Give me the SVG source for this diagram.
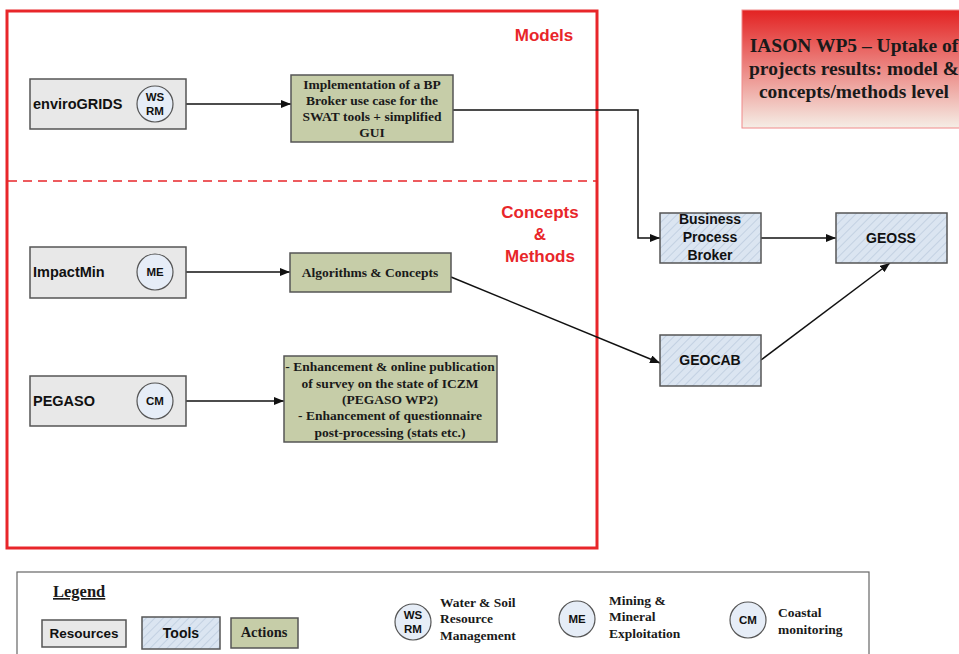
<svg xmlns="http://www.w3.org/2000/svg" width="959" height="654" viewBox="0 0 959 654">
<defs>
<pattern id="hatch" patternUnits="userSpaceOnUse" width="6" height="6" patternTransform="rotate(45)">
<rect width="6" height="6" fill="#dbe5f1"/>
<line x1="0" y1="0" x2="0" y2="6" stroke="#b4c4d8" stroke-width="1.2"/>
</pattern>
<linearGradient id="redgrad" x1="0" y1="0" x2="0" y2="1">
<stop offset="0" stop-color="#e32222"/>
<stop offset="1" stop-color="#f5eee6"/>
</linearGradient>
<marker id="arr" markerWidth="10" markerHeight="8" refX="10" refY="4" orient="auto" markerUnits="userSpaceOnUse">
<path d="M0,0 L10,4 L0,8 Z" fill="#111"/>
</marker>
<style>
.res{fill:#e8e8e8;stroke:#555;stroke-width:1.5}
.tool{fill:url(#hatch);stroke:#555;stroke-width:1.5}
.act{fill:#c6cda8;stroke:#555;stroke-width:1.5}
.circ{fill:#e6edf7;stroke:#555;stroke-width:1.2}
.sans{font-family:"Liberation Sans",Arial,sans-serif;font-weight:bold;fill:#111}
.serif{font-family:"Liberation Serif","Times New Roman",serif;font-weight:bold;fill:#1a1a1a}
.red{font-family:"Liberation Sans",Arial,sans-serif;font-weight:bold;fill:#e8262a;font-size:17px}
.conn{stroke:#111;stroke-width:1.5;fill:none;marker-end:url(#arr)}
</style>
</defs>
<rect width="959" height="654" fill="#fff"/>

<g id="frame">
<rect x="7" y="11" width="590" height="537" fill="none" stroke="#e8262a" stroke-width="3"/>
<line x1="8" y1="181" x2="597" y2="181" stroke="#e8262a" stroke-width="1.5" stroke-dasharray="9,6"/>
<text class="red" x="544" y="41" text-anchor="middle">Models</text>
<text class="red" x="540" y="218" text-anchor="middle">Concepts</text>
<text class="red" x="540" y="240" text-anchor="middle">&amp;</text>
<text class="red" x="540" y="262" text-anchor="middle">Methods</text>
</g>

<g id="title">
<rect x="742" y="10" width="230" height="118" fill="url(#redgrad)" stroke="#f08a8a" stroke-width="1"/>
<text class="serif" font-size="19.5" text-anchor="middle"><tspan x="854" y="52">IASON WP5 – Uptake of</tspan><tspan x="854" y="75">projects results: model &amp;</tspan><tspan x="854" y="98">concepts/methods level</tspan></text>
</g>

<g id="connectors">
<line class="conn" x1="186" y1="104" x2="291" y2="104"/>
<polyline class="conn" points="453,110 638,110 638,238 660,238"/>
<line class="conn" x1="186" y1="272" x2="290" y2="272"/>
<line class="conn" x1="451" y1="277" x2="660" y2="363"/>
<line class="conn" x1="186" y1="401" x2="284" y2="401"/>
<line class="conn" x1="761" y1="238" x2="836" y2="238"/>
<line class="conn" x1="761" y1="360" x2="890" y2="263"/>
</g>

<g id="envirogrids">
<rect class="res" x="30" y="79" width="156" height="50"/>
<text class="sans" x="33" y="109" font-size="14.5">enviroGRIDS</text>
<circle class="circ" cx="155" cy="104" r="18"/>
<text class="sans" x="155" y="101" font-size="11.5" text-anchor="middle">WS</text>
<text class="sans" x="155" y="115" font-size="11.5" text-anchor="middle">RM</text>
</g>

<g id="implementation">
<rect class="act" x="291" y="75" width="162" height="67"/>
<text class="serif" font-size="13.5" text-anchor="middle"><tspan x="372" y="89">Implementation of a BP</tspan><tspan x="372" y="105">Broker use case for the</tspan><tspan x="372" y="121">SWAT tools + simplified</tspan><tspan x="372" y="137">GUI</tspan></text>
</g>

<g id="impactmin">
<rect class="res" x="30" y="247" width="156" height="51"/>
<text class="sans" x="33" y="277" font-size="14.5">ImpactMin</text>
<circle class="circ" cx="155" cy="272" r="18"/>
<text class="sans" x="155" y="276" font-size="11.5" text-anchor="middle">ME</text>
</g>

<g id="algorithms">
<rect class="act" x="290" y="253" width="161" height="39"/>
<text class="serif" x="370" y="277" font-size="13.5" text-anchor="middle">Algorithms &amp; Concepts</text>
</g>

<g id="pegaso">
<rect class="res" x="30" y="376" width="156" height="50"/>
<text class="sans" x="33" y="406" font-size="14.5">PEGASO</text>
<circle class="circ" cx="155" cy="401" r="18"/>
<text class="sans" x="155" y="405" font-size="11.5" text-anchor="middle">CM</text>
</g>

<g id="enhancement">
<rect class="act" x="284" y="356" width="213" height="86"/>
<text class="serif" font-size="13.5" text-anchor="middle"><tspan x="390" y="371">- Enhancement &amp; online publication</tspan><tspan x="390" y="388">of survey on the state of ICZM</tspan><tspan x="390" y="404">(PEGASO WP2)</tspan><tspan x="390" y="420">- Enhancement of questionnaire</tspan><tspan x="390" y="437">post-processing (stats etc.)</tspan></text>
</g>

<g id="bpb">
<rect class="tool" x="660" y="213" width="101" height="50"/>
<text class="sans" font-size="14" text-anchor="middle"><tspan x="710" y="224">Business</tspan><tspan x="710" y="242">Process</tspan><tspan x="710" y="260">Broker</tspan></text>
</g>

<g id="geoss">
<rect class="tool" x="836" y="213" width="111" height="50"/>
<text class="sans" x="891" y="243" font-size="14" text-anchor="middle">GEOSS</text>
</g>

<g id="geocab">
<rect class="tool" x="660" y="335" width="101" height="51"/>
<text class="sans" x="710" y="365" font-size="14" text-anchor="middle">GEOCAB</text>
</g>

<g id="legend">
<rect x="17" y="572" width="852" height="95" fill="#fff" stroke="#666" stroke-width="1.2"/>
<text class="serif" x="53" y="597" font-size="16.5" text-decoration="underline">Legend</text>
<rect class="res" x="42" y="620" width="84" height="27"/>
<text class="sans" x="84" y="638" font-size="13.5" text-anchor="middle">Resources</text>
<rect class="tool" x="142" y="617" width="78" height="32"/>
<text class="sans" x="181" y="638" font-size="14" text-anchor="middle">Tools</text>
<rect class="act" x="231" y="618" width="67" height="30"/>
<text class="serif" x="264" y="637" font-size="14.5" text-anchor="middle">Actions</text>
<circle class="circ" cx="413" cy="622" r="18"/>
<text class="sans" x="413" y="619" font-size="11.5" text-anchor="middle">WS</text>
<text class="sans" x="413" y="633" font-size="11.5" text-anchor="middle">RM</text>
<text class="serif" font-size="13.5"><tspan x="440" y="607">Water &amp; Soil</tspan><tspan x="440" y="623">Resource</tspan><tspan x="440" y="640">Management</tspan></text>
<circle class="circ" cx="577" cy="619" r="18"/>
<text class="sans" x="577" y="623" font-size="11.5" text-anchor="middle">ME</text>
<text class="serif" font-size="13.5"><tspan x="609" y="605">Mining &amp;</tspan><tspan x="609" y="621">Mineral</tspan><tspan x="609" y="638">Exploitation</tspan></text>
<circle class="circ" cx="748" cy="620" r="18"/>
<text class="sans" x="748" y="624" font-size="11.5" text-anchor="middle">CM</text>
<text class="serif" font-size="13.5"><tspan x="778" y="617">Coastal</tspan><tspan x="778" y="634">monitoring</tspan></text>
</g>
</svg>
